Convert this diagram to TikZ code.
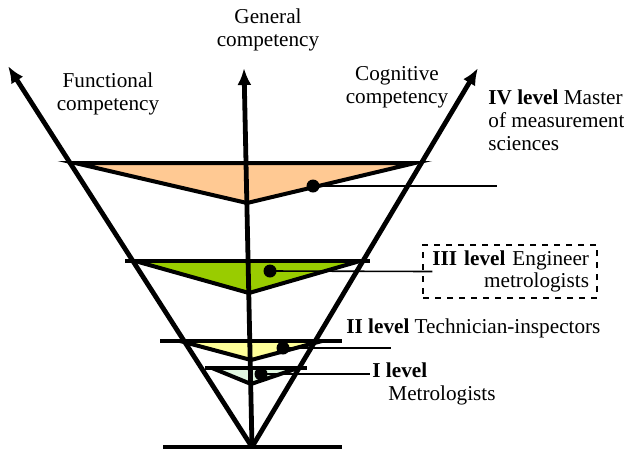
\documentclass[tikz,border=0pt]{standalone}
\usepackage{fontspec}
\setmainfont{Liberation Serif}
\usepackage{tikz}
\usetikzlibrary{arrows.meta,positioning}
\definecolor{LevelFour}{HTML}{FFC993}
\definecolor{LevelThree}{HTML}{99CC00}
\definecolor{LevelTwo}{HTML}{FFFF99}
\definecolor{LevelOne}{HTML}{DFF5DF}
\tikzset{
  axisarrow/.style={-{Latex[length=8.5pt, width=7pt]}, line width=2.4pt},
  levelface/.style={draw=black, line width=2pt, line join=miter},
  leveledge/.style={draw=black, line width=2pt},
  groundline/.style={draw=black, line width=1.7pt},
  leader/.style={draw=black, line width=0.8pt},
  dot/.style={circle, fill=black, inner sep=0pt, minimum size=6.5pt},
  caption/.style={font=\fontsize{10.6}{11.4}\selectfont, inner sep=0pt, align=center},
  levelbox/.style={caption, draw=black, dashed, line width=0.7pt, align=right,
    text width=79pt, inner xsep=4pt, minimum height=26.5pt}
}

\begin{document}
\begin{tikzpicture}[x=0.5pt, y=-0.5pt]
  \useasboundingbox (0,0) rectangle (624,450);
  \coordinate (apex) at (252,447);

  \fill[LevelFour] (75,163) -- (415,163) -- (247,203) -- cycle;
  \draw[levelface] (75,163) -- (415,163) -- (247,203) -- cycle;

  \fill[LevelThree] (135,261) -- (360,261) -- (249,293) -- cycle;
  \draw[leveledge] (125,261) -- (370,261);
  \draw[leveledge] (135,261) -- (249,293) -- (360,261);

  \fill[LevelTwo] (180,341) -- (322,341) -- (251,360) -- cycle;
  \draw[leveledge] (160,341) -- (342,341);
  \draw[leveledge] (180,341) -- (251,360) -- (322,341);

  \fill[LevelOne] (212,368) -- (298,368) -- (251,384) -- cycle;
  \draw[leveledge] (205,368) -- (307,368);
  \draw[leveledge] (212,368) -- (251,384) -- (298,368);

  \draw[groundline] (163,447) -- (342,447);
  \draw[axisarrow] (apex) -- (8,66);
  \draw[axisarrow] (apex) -- (244,68);
  \draw[axisarrow] (apex) -- (478,68);

  \node[caption] (general) at (268,30) {General\\competency};
  \node[caption] (functional) at (108,94) {Functional\\competency};
  \node[caption] (cognitive) at (397,87) {Cognitive\\competency};

  \node[dot] (d4) at (313,186) {};
  \coordinate (e4) at (497,186);
  \draw[leader] (d4.center) -- (e4);
  \node[caption, anchor=west, align=left] (lvl4) at (488,120)
    {\textbf{IV level} Master\\of measurement\\sciences};

  \node[dot] (d3) at (270,271) {};
  \node[levelbox] (lvl3) at (510,271.5) {\textbf{III level} Engineer\\metrologists};
  \coordinate (e3) at ([xshift=5pt]lvl3.west);
  \draw[leader] (d3.center) -- (e3);

  \node[dot] (d2) at (283,348) {};
  \coordinate (e2) at (391,348);
  \draw[leader] (d2.center) -- (e2);
  \node[caption, anchor=west] (lvl2) at (346,328)
    {\textbf{II level} Technician-inspectors};

  \node[dot] (d1) at (261,374) {};
  \coordinate (e1) at (370,374);
  \draw[leader] (d1.center) -- (e1);
  \node[caption, anchor=west, align=left] (lvl1) at (372,384)
    {\textbf{I level}\\\hspace*{8pt}Metrologists};
\end{tikzpicture}
\end{document}
